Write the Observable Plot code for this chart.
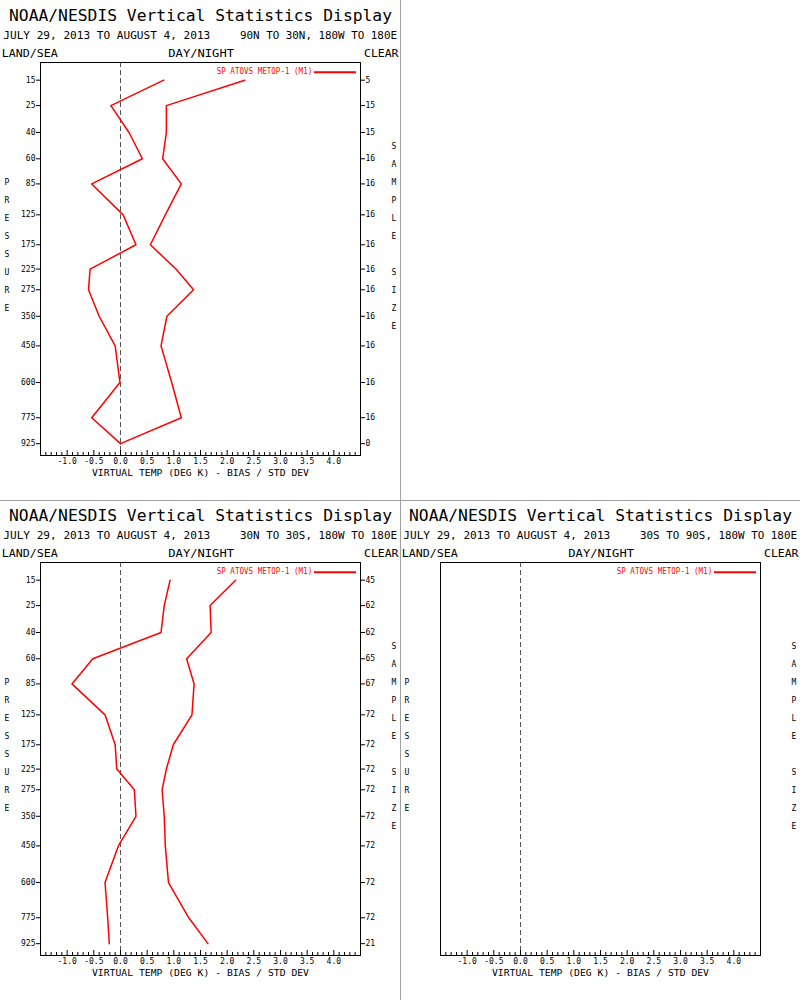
<!DOCTYPE html>
<html><head><meta charset="utf-8">
<script src="https://cdn.jsdelivr.net/npm/d3@7"></script>
<script src="https://cdn.jsdelivr.net/npm/@observablehq/plot@0.6"></script>
<style>
body{margin:0;background:#fff}
#root{position:relative;width:800px;height:1000px;background:#fff;overflow:hidden}
.panel{position:absolute;width:400px;height:500px}
.vdiv{position:absolute;left:400px;top:0;width:1px;height:1000px;background:#a0a0a0}
.hdiv{position:absolute;left:0;top:500px;width:800px;height:1px;background:#a0a0a0}
</style></head><body>
<div id="root"></div>
<script>
// ---- data ----
const levels = [15, 25, 40, 60, 85, 125, 175, 225, 275, 350, 450, 600, 775, 925];
const xTickValues = [-1.0, -0.5, 0.0, 0.5, 1.0, 1.5, 2.0, 2.5, 3.0, 3.5, 4.0];

const nhBias  = [0.81, -0.18, 0.16, 0.41, -0.54, 0.05, 0.29, -0.57, -0.60, -0.40, -0.10, -0.01, -0.54, 0.0];
const nhStd   = [2.33, 0.86, 0.86, 0.79, 1.14, 0.84, 0.56, 1.04, 1.37, 0.87, 0.76, 0.96, 1.14, 0.0];
const nhCount = [5, 15, 15, 16, 16, 16, 16, 16, 16, 16, 16, 16, 16, 0];

const trBias  = [0.93, 0.82, 0.76, -0.52, -0.91, -0.29, -0.10, -0.07, 0.26, 0.29, -0.04, -0.29, -0.24, -0.21];
const trStd   = [2.16, 1.68, 1.70, 1.24, 1.38, 1.34, 0.99, 0.86, 0.78, 0.82, 0.84, 0.90, 1.28, 1.64];
const trCount = [45, 62, 62, 65, 67, 72, 72, 72, 72, 72, 72, 72, 72, 21];

const shBias = [];
const shStd = [];
const shCount = [];

const titleText = "NOAA/NESDIS Vertical Statistics Display";
const dateText = "JULY 29, 2013 TO AUGUST 4, 2013";
const regionNH = "90N TO 30N, 180W TO 180E";
const regionTR = "30N TO 30S, 180W TO 180E";
const regionSH = "30S TO 90S, 180W TO 180E";
const seriesName = "SP ATOVS METOP-1 (M1)";
const xTitle = "VIRTUAL TEMP (DEG K) - BIAS / STD DEV";

// ---- layout ----
const W = 400, H = 500, ML = 40, MR = 40, MT = 62, MB = 45;
const FH = H - MT - MB;
const FONT = "DejaVu Sans Mono";

function makePanel(bias, std, count, region, showY) {
  const rows = bias.map((b, i) => ({p: levels[i], bias: b, std: std[i]}));
  const minor = d3.range(-15, 46).filter(i => i % 5 !== 0).map(i => i / 10);
  const major = d3.range(-15, 46, 5).map(i => i / 10);
  const marks = [
    Plot.ruleX([0], {stroke: "#555", strokeDasharray: "5,3"}),
    Plot.ruleX(minor, {x: d => d, insetTop: FH - 3, stroke: "black"}),
    Plot.ruleX(major, {x: d => d, insetTop: FH - 5, stroke: "black"}),
    Plot.text(xTickValues, {x: d => d, text: d => d.toFixed(1), frameAnchor: "bottom", dy: 8, fontSize: 8, fontFamily: FONT, fill: "black"}),
    Plot.frame({stroke: "black"}),
    Plot.line(rows, {x: "bias", y: "p", stroke: "red", strokeWidth: 1.5}),
    Plot.line(rows, {x: "std", y: "p", stroke: "red", strokeWidth: 1.5})
  ];
  if (showY) {
    marks.push(Plot.axisY({anchor: "left", ticks: levels, tickSize: 4, tickPadding: 1, label: null, tickFormat: d => String(d), fontSize: 8}));
    marks.push(Plot.axisY({anchor: "right", ticks: levels, tickSize: 4, tickPadding: 1, label: null, tickFormat: d => String(count[levels.indexOf(d)]), fontSize: 8}));
  }
  const svg = Plot.plot({
    width: W, height: H,
    marginLeft: ML, marginRight: MR, marginTop: MT, marginBottom: MB,
    style: {fontFamily: FONT, fontSize: "8px", background: "white", overflow: "visible", color: "black"},
    x: {domain: [-1.5, 4.5], axis: null},
    y: {type: "pow", exponent: 0.286, domain: [10, 1000], reverse: true, axis: showY ? undefined : null},
    marks
  });
  const s = d3.select(svg);
  const t = (x, y, str, size, len, anchor = "start", fill = "black") => {
    const el = s.append("text").attr("x", x).attr("y", y).attr("font-family", FONT)
      .attr("font-size", size).attr("fill", fill).attr("text-anchor", anchor).text(str);
    if (len) el.attr("textLength", len).attr("lengthAdjust", "spacingAndGlyphs");
    return el;
  };
  t(9, 20.7, titleText, 16.3, 383);
  t(3.3, 39.3, dateText, 10, 207);
  t(240, 39.3, region, 10, 157);
  t(1.7, 57.3, "LAND/SEA", 10, 56);
  t(168.3, 57.3, "DAY/NIGHT", 10, 65.7);
  t(364, 57.3, "CLEAR", 10, 34.5);
  t(216.7, 74, seriesName, 8, 95.6, "start", "red");
  s.append("line").attr("x1", 314).attr("x2", 356).attr("y1", 72.3).attr("y2", 72.3)
    .attr("stroke", "red").attr("stroke-width", 2);
  t(200.5, 476, xTitle, 8.5, 217, "middle");
  "PRESSURE".split("").forEach((c, i) => t(7, 185 + i * 18, c, 8, null, "middle"));
  "SAMPLE SIZE".split("").forEach((c, i) => { if (c !== " ") t(394, 149 + i * 18, c, 8, null, "middle"); });
  return svg;
}

const root = document.getElementById("root");
function place(svg, left, top) {
  const d = document.createElement("div");
  d.className = "panel";
  d.style.left = left + "px";
  d.style.top = top + "px";
  d.appendChild(svg);
  root.appendChild(d);
}
place(makePanel(nhBias, nhStd, nhCount, regionNH, true), 0, 0);
place(makePanel(trBias, trStd, trCount, regionTR, true), 0, 500);
place(makePanel(shBias, shStd, shCount, regionSH, false), 400, 500);
const v = document.createElement("div"); v.className = "vdiv"; root.appendChild(v);
const h = document.createElement("div"); h.className = "hdiv"; root.appendChild(h);
</script>
</body></html>
